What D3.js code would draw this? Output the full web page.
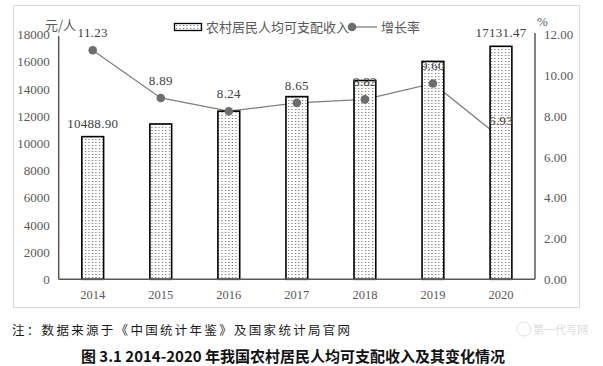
<!DOCTYPE html>
<html><head><meta charset="utf-8">
<script src="https://cdn.jsdelivr.net/npm/d3@7/dist/d3.min.js"></script>
<style>
html,body{margin:0;padding:0;background:#fff;}
svg{display:block;}
</style></head>
<body>
<svg id="chart" width="603" height="366"></svg>
<script>
const years = ["2014","2015","2016","2017","2018","2019","2020"];
const income = [10488.90, 11421.7, 12363.4, 13432.4, 14617.0, 16020.7, 17131.47];
const growth = [11.23, 8.89, 8.24, 8.65, 8.82, 9.60, 6.93];
const leftTicks = [0,2000,4000,6000,8000,10000,12000,14000,16000,18000];
const rightTicks = [0,2,4,6,8,10,12];
const incomeLabels = {"2014":"10488.90","2020":"17131.47"};
const seriesNames = ["农村居民人均可支配收入","增长率"];
const leftUnit = "元/人", rightUnit = "%";
const note = "注：数据来源于《中国统计年鉴》及国家统计局官网";
const title = "图 3.1 2014-2020 年我国农村居民人均可支配收入及其变化情况";
const watermark = "第一代写网";

const svg = d3.select("#chart");
const serif = "'Liberation Serif','DejaVu Serif',serif";
const cjk = "'Noto Sans CJK SC','Noto Sans',sans-serif";
const axisCol = "#595959";

const x0 = 58.7, x1 = 535, yT = 34.5, yB = 279.3;
const x = d3.scaleBand().domain(years).range([x0, x1]).paddingInner(0.68).paddingOuter(0.34);
const yL = d3.scaleLinear().domain([0,18000]).range([yB, yT]);
const yR = d3.scaleLinear().domain([0,12]).range([yB, yT]);

// pattern
const defs = svg.append("defs");
const pat = defs.append("pattern").attr("id","dots").attr("patternUnits","userSpaceOnUse")
  .attr("width",3.5).attr("height",3).attr("x",0).attr("y",0);
pat.append("rect").attr("width",3.5).attr("height",3).attr("fill","#fff");
pat.append("rect").attr("x",1).attr("y",1).attr("width",1).attr("height",1).attr("fill","#555");

// frame
svg.append("rect").attr("x",13.5).attr("y",5.5).attr("width",566).attr("height",302)
  .attr("fill","#fff").attr("stroke","#d9d9d9").attr("stroke-width",1);

// line (under bars)
const line = d3.line().x((d,i)=>x(years[i])+x.bandwidth()/2).y(d=>yR(d));
svg.append("path").datum(growth).attr("d",line).attr("fill","none")
  .attr("stroke","#7f7f7f").attr("stroke-width",1.3);

// bars
svg.append("g").selectAll("rect").data(income).join("rect")
  .attr("x",(d,i)=>x(years[i])).attr("width",x.bandwidth())
  .attr("y",d=>yL(d)).attr("height",d=>yB-yL(d))
  .attr("fill","url(#dots)").attr("stroke","#000").attr("stroke-width",1.6);

// markers (last one hidden by bar in reference)
svg.append("g").selectAll("circle").data(growth.slice(0,growth.length-1)).join("circle")
  .attr("cx",(d,i)=>x(years[i])+x.bandwidth()/2).attr("cy",d=>yR(d)).attr("r",4.3)
  .attr("fill","#6d6d6d");

// axes lines
const leftAxis = d3.axisLeft(yL).tickValues(leftTicks).tickSize(0).tickPadding(9).tickFormat(d3.format("d"));
const gL = svg.append("g").attr("transform",`translate(${x0},0)`).call(leftAxis);
gL.select(".domain").remove();
gL.selectAll("text").attr("font-family",serif).attr("font-size",13).attr("fill",axisCol);
svg.append("line").attr("x1",x0).attr("x2",x0).attr("y1",36).attr("y2",yB).attr("stroke",axisCol).attr("stroke-width",1.5);

const rightAxis = d3.axisRight(yR).tickValues(rightTicks).tickSize(0).tickPadding(9).tickFormat(d3.format(".2f"));
const gR = svg.append("g").attr("transform",`translate(${x1},0)`).call(rightAxis);
gR.select(".domain").remove();
gR.selectAll("text").attr("font-family",serif).attr("font-size",13).attr("fill",axisCol);
svg.append("line").attr("x1",x1).attr("x2",x1).attr("y1",33).attr("y2",yB).attr("stroke",axisCol).attr("stroke-width",1.5);

const bottomAxis = d3.axisBottom(x).tickSize(0).tickPadding(11);
const gB = svg.append("g").attr("transform",`translate(0,${yB})`).call(bottomAxis);
gB.select(".domain").remove();
gB.selectAll("text").attr("font-family",serif).attr("font-size",12.5).attr("fill",axisCol);
svg.append("line").attr("x1",x0).attr("x2",x1).attr("y1",yB).attr("y2",yB).attr("stroke",axisCol).attr("stroke-width",1.5);

// units
svg.append("text").attr("x",45).attr("y",30).text(leftUnit)
  .attr("font-family",cjk).attr("font-size",13).attr("fill",axisCol);
svg.append("text").attr("x",537).attr("y",26).text(rightUnit)
  .attr("font-family",serif).attr("font-size",13).attr("fill",axisCol);

// bar value labels
svg.append("g").selectAll("text").data(years.filter(y=>incomeLabels[y])).join("text")
  .attr("x",d=>x(d)+x.bandwidth()/2).attr("y",d=>yL(income[years.indexOf(d)])-9)
  .attr("text-anchor","middle").text(d=>incomeLabels[d])
  .attr("font-family",serif).attr("font-size",13).attr("letter-spacing",0.3).attr("fill","#404040");

// growth labels
svg.append("g").selectAll("text").data(growth).join("text")
  .attr("x",(d,i)=>x(years[i])+x.bandwidth()/2).attr("y",d=>yR(d)-13)
  .attr("text-anchor","middle").text(d=>d.toFixed(2))
  .attr("font-family",serif).attr("font-size",13).attr("letter-spacing",0.3).attr("fill","#404040");

// legend
svg.append("rect").attr("x",174.5).attr("y",23.5).attr("width",27).attr("height",7)
  .attr("fill","url(#dots)").attr("stroke","#000").attr("stroke-width",1.3);
svg.append("text").attr("x",206).attr("y",31.5).text(seriesNames[0])
  .attr("font-family",cjk).attr("font-size",13).attr("fill",axisCol);
svg.append("line").attr("x1",351).attr("x2",377).attr("y1",27).attr("y2",27).attr("stroke","#7f7f7f").attr("stroke-width",1.3);
svg.append("circle").attr("cx",352).attr("cy",27).attr("r",4.3).attr("fill","#6d6d6d");
svg.append("text").attr("x",381).attr("y",31.5).text(seriesNames[1])
  .attr("font-family",cjk).attr("font-size",13).attr("fill",axisCol);

// note
svg.append("text").attr("x",12).attr("y",334.5).text(note)
  .attr("font-family",cjk).attr("font-size",12.5).attr("letter-spacing",2.3).attr("fill","#1a1a1a");
// watermark
svg.append("circle").attr("cx",524).attr("cy",329).attr("r",7).attr("fill","none").attr("stroke","#e2e2e2").attr("stroke-width",1);
svg.append("text").attr("x",533).attr("y",333.5).text(watermark)
  .attr("font-family",cjk).attr("font-size",11).attr("fill","#dddddd");
// title
svg.append("text").attr("x",293).attr("y",362).attr("text-anchor","middle").text(title)
  .attr("font-family",cjk).attr("font-size",15).attr("font-weight","bold").attr("fill","#111");
</script>
</body></html>
